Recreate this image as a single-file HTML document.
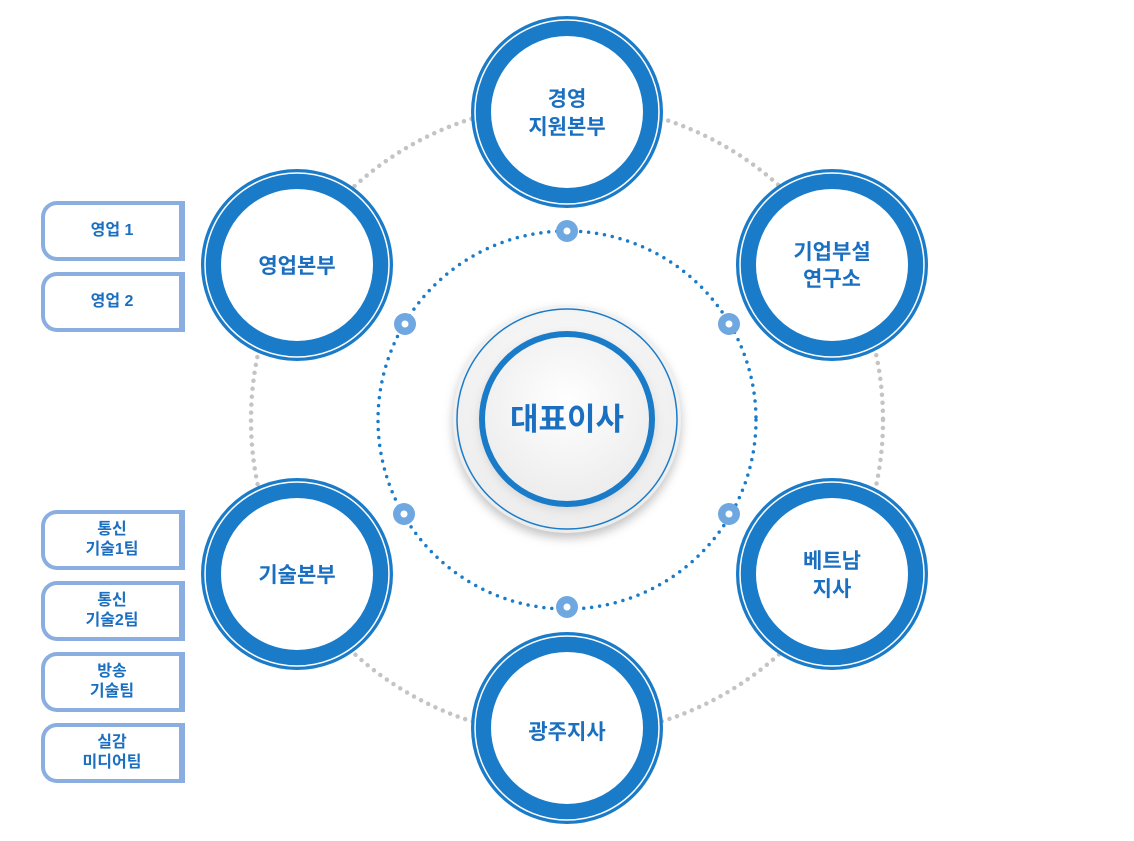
<!DOCTYPE html>
<html><head><meta charset="utf-8"><style>
body{margin:0;background:#fff;width:1134px;height:841px;overflow:hidden;position:relative;font-family:"Liberation Sans","Noto Sans CJK KR",sans-serif}
.box{position:absolute;left:41px;width:134px;height:52px;border:4px solid #8aaee0;border-right-width:6px;border-radius:16px 0 0 16px;background:#fff;display:flex;align-items:center;justify-content:center;text-align:center;color:#1a6fc0;font-weight:bold;font-size:16px;line-height:20px}
</style></head><body>
<svg width="1134" height="841" style="position:absolute;left:0;top:0">
<defs>
<radialGradient id="cg" cx="50%" cy="40%" r="60%"><stop offset="0" stop-color="#ffffff"/><stop offset="1" stop-color="#ececec"/></radialGradient>
<filter id="sh" x="-30%" y="-30%" width="160%" height="160%"><feGaussianBlur stdDeviation="5"/></filter>
</defs>
<circle cx="567" cy="420" r="316" fill="none" stroke="#c4c4c4" stroke-width="4.5" stroke-dasharray="0 8" stroke-linecap="round"/>
<circle cx="567" cy="420" r="189" fill="none" stroke="#1a7bc9" stroke-width="3.5" stroke-dasharray="0 8" stroke-linecap="round"/>
<g fill="#6fa8e0">
<circle cx="567" cy="231" r="11"/><circle cx="405" cy="324" r="11"/><circle cx="729" cy="324" r="11"/>
<circle cx="404" cy="514" r="11"/><circle cx="729" cy="514" r="11"/><circle cx="567" cy="607" r="11"/>
</g>
<g fill="#fff">
<circle cx="567" cy="231" r="3.5"/><circle cx="405" cy="324" r="3.5"/><circle cx="729" cy="324" r="3.5"/>
<circle cx="404" cy="514" r="3.5"/><circle cx="729" cy="514" r="3.5"/><circle cx="567" cy="607" r="3.5"/>
</g>
<circle cx="567" cy="424" r="114" fill="#999" filter="url(#sh)" opacity="0.6"/>
<circle cx="567" cy="419" r="114" fill="url(#cg)"/>
<circle cx="567" cy="419" r="110" fill="none" stroke="#1a7bc9" stroke-width="1.5"/>
<circle cx="567" cy="422" r="88" fill="#bbb" filter="url(#sh)" opacity="0.5"/>
<circle cx="567" cy="419" r="85" fill="url(#cg)" stroke="#1a7bc9" stroke-width="6"/>
</svg>
<svg width="1134" height="841" style="position:absolute;left:0;top:0">
<g fill="#fff" stroke="#1a7bc9">
<circle cx="567" cy="112" r="86" stroke-width="20"/><circle cx="297" cy="265" r="86" stroke-width="20"/>
<circle cx="832" cy="265" r="86" stroke-width="20"/><circle cx="297" cy="574" r="86" stroke-width="20"/>
<circle cx="832" cy="574" r="86" stroke-width="20"/><circle cx="567" cy="728" r="86" stroke-width="20"/>
</g>
<g fill="none" stroke="#fff" stroke-width="1.5">
<circle cx="567" cy="112" r="92"/><circle cx="297" cy="265" r="92"/><circle cx="832" cy="265" r="92"/>
<circle cx="297" cy="574" r="92"/><circle cx="832" cy="574" r="92"/><circle cx="567" cy="728" r="92"/>
</g>
<g font-family="Liberation Sans, Noto Sans CJK KR, sans-serif" font-weight="bold" fill="#1a6fc0" text-anchor="middle" font-size="21">
<text x="567" y="106">경영</text><text x="567" y="134">지원본부</text>
<text x="297" y="273">영업본부</text>
<text x="832" y="259">기업부설</text><text x="832" y="286">연구소</text>
<text x="297" y="582">기술본부</text>
<text x="832" y="568">베트남</text><text x="832" y="596">지사</text>
<text x="567" y="739">광주지사</text>
<text x="567" y="430" font-size="31">대표이사</text>
</g>
</svg>
<div class="box" style="top:201px">영업 1</div>
<div class="box" style="top:272px">영업 2</div>
<div class="box" style="top:510px">통신<br>기술1팀</div>
<div class="box" style="top:581px">통신<br>기술2팀</div>
<div class="box" style="top:652px">방송<br>기술팀</div>
<div class="box" style="top:723px">실감<br>미디어팀</div>
</body></html>
